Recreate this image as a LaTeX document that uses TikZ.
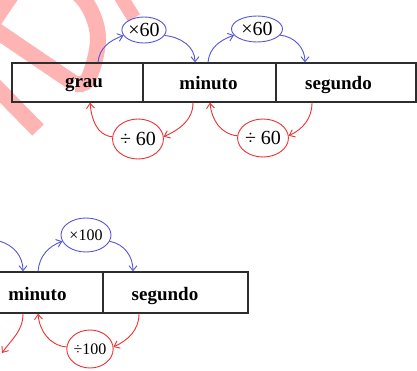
\documentclass[tikz,border=0pt]{standalone}
\usepackage{fontspec}
\setmainfont{Liberation Serif}
\usetikzlibrary{arrows.meta,shapes.geometric}
\definecolor{arrblue}{RGB}{85,85,215}
\definecolor{arrred}{RGB}{235,50,50}
\definecolor{wmark}{RGB}{255,180,180}
\definecolor{boxline}{RGB}{45,45,45}
\tikzset{
  cell/.style={draw=boxline,line width=1.3pt,inner sep=0pt,anchor=center},
  lbl/.style={font=\fontsize{19}{22}\selectfont\bfseries,inner sep=0pt,anchor=base},
  oval/.style={ellipse,line width=0.9pt,inner sep=0pt,font=\fontsize{20}{22}\selectfont},
  smalloval/.style={oval,font=\fontsize{16}{18}\selectfont},
  bluearr/.style={draw=arrblue,line width=0.9pt,-{Straight Barb[length=5pt,width=8pt]}},
  redarr/.style={draw=arrred,line width=0.9pt,-{Straight Barb[length=5pt,width=8pt]}},
  wm/.style={draw=wmark,line width=16pt}
}
\begin{document}
\begin{tikzpicture}[x=1pt,y=1pt]
\useasboundingbox (0,0) rectangle (417,370);
\clip (0,0) rectangle (417,370);
\fill[white] (0,0) rectangle (417,370);
% watermark fragments
\draw[wm] (15.4,380.9) -- (-9.9,343.7) -- (72.8,287.5);
\draw[wm] plot[smooth,tension=0.6] coordinates {(15.4,380.9) (57,385.3) (84,370.1) (98,333.9) (88.7,291.8) (76,286)};
\draw[wm] (-10,289) -- (38,240);
\draw[wm,line width=14pt] (118,378) -- (134,352);
% top table
\node[cell,minimum width=131pt,minimum height=39pt] (grau) at (77.5,287.5) {};
\node[cell,minimum width=133pt,minimum height=39pt] (min1) at (209.5,287.5) {};
\node[cell,minimum width=140pt,minimum height=39pt] (seg1) at (346,287.5) {};
\node[lbl] (tgrau) at (84,282) {grau};
\node[lbl] (tmin1) at (208.5,280) {minuto};
\node[lbl] (tseg1) at (338.5,280) {segundo};
% top ovals
\node[oval,draw=arrblue,minimum width=40pt,minimum height=26pt] (e1) at (144,340) {×60};
\node[oval,draw=arrblue,minimum width=51pt,minimum height=26pt] (e2) at (257,341) {×60};
\node[oval,draw=arrred,minimum width=50pt,minimum height=40pt] (e3) at (138,231) {÷ 60};
\node[oval,draw=arrred,minimum width=47pt,minimum height=38pt] (e4) at (263,232) {÷ 60};
% top arrows
\draw[bluearr] ([xshift=20.5pt]grau.north) to[out=85,in=200] (e1.195);
\draw[bluearr] (e1.-15) to[out=-5,in=90] ([xshift=-14.5pt]min1.north);
\draw[bluearr] ([xshift=-1.5pt]min1.north) to[out=85,in=200] (e2.195);
\draw[bluearr] (e2.-15) to[out=-5,in=90] ([xshift=-41pt]seg1.north);
\draw[redarr] (e3.175) to[out=175,in=-85] ([xshift=12.5pt]grau.south);
\draw[redarr] ([xshift=-16.5pt]min1.south) to[out=-90,in=25] (e3.5);
\draw[redarr] (e4.175) to[out=175,in=-85] ([xshift=0.5pt]min1.south);
\draw[redarr] ([xshift=-34pt]seg1.south) to[out=-90,in=25] (e4.5);
% bottom table
\node[cell,minimum width=133pt,minimum height=41pt] (min2) at (36.5,77.5) {};
\node[cell,minimum width=145pt,minimum height=41pt] (seg2) at (175.5,77.5) {};
\node[lbl] (tmin2) at (37.5,70) {minuto};
\node[lbl] (tseg2) at (165,70) {segundo};
% bottom ovals
\node[smalloval,draw=arrblue,minimum width=50pt,minimum height=34pt] (e5) at (86,135) {×100};
\node[smalloval,draw=arrred,minimum width=46pt,minimum height=38pt] (e6) at (90,21) {÷100};
% bottom arrows
\coordinate (lin) at (-1,129);
\coordinate (lout) at (2,17);
\draw[bluearr] (lin) to[out=-15,in=90] ([xshift=-13.5pt]min2.north);
\draw[bluearr] ([xshift=1.5pt]min2.north) to[out=85,in=200] (e5.195);
\draw[bluearr] (e5.-15) to[out=-10,in=90] ([xshift=-42.5pt]seg2.north);
\draw[redarr] (e6.175) to[out=175,in=-85] ([xshift=1.5pt]min2.south);
\draw[redarr] ([xshift=-36.5pt]seg2.south) to[out=-90,in=25] (e6.5);
\draw[redarr] ([xshift=-13.5pt]min2.south) to[out=-90,in=55] (lout);
\end{tikzpicture}
\end{document}
